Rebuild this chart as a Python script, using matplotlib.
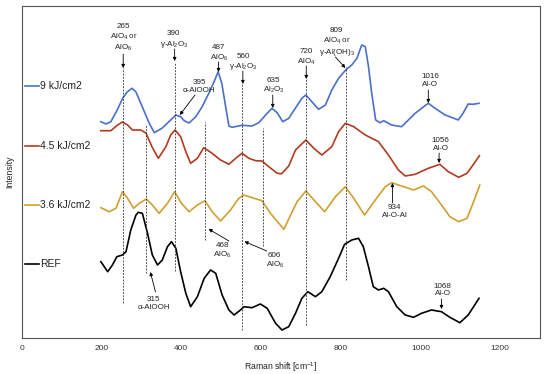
import matplotlib
matplotlib.use("Agg")
import matplotlib.pyplot as plt

plt.rcParams['font.family'] = ['Liberation Sans', 'DejaVu Sans']
plt.rcParams['mathtext.fontset'] = 'custom'
plt.rcParams['mathtext.rm'] = 'Liberation Sans'
plt.rcParams['mathtext.it'] = 'Liberation Sans:italic'

# ---------------- data ----------------
series_names = ["9 kJ/cm2", "4.5 kJ/cm2", "3.6 kJ/cm2", "REF"]

x_9 = [199, 212, 224, 240, 254, 265, 277, 287, 303, 320, 333, 353, 374, 387, 399, 408, 420, 437, 453, 470,
       483, 493, 502, 512, 520, 528, 553, 578, 595, 612, 628, 641, 655, 670, 687, 703, 713, 724, 745, 762,
       778, 795, 813, 828, 841, 853, 862, 870, 878, 888, 899, 908, 928, 953, 970, 987, 1003, 1020, 1037,
       1062, 1078, 1095, 1107, 1120, 1132, 1147]
y_9 = [216.3, 214, 216.3, 228, 240, 246, 249.7, 246, 231, 215, 205.3, 210, 218, 223, 221.3, 217.3, 215,
       221.3, 231.3, 245, 256.3, 266.3, 255, 231, 212, 210.7, 212.7, 212, 215.3, 223, 229.7, 225.3, 216.3,
       219.7, 230, 239.7, 243, 238, 228.7, 233, 248, 259.7, 268, 273, 279.7, 293, 291.3, 271.3, 245, 218,
       215.3, 217.3, 213, 211.3, 218, 224.7, 229.7, 234.7, 229.7, 223, 220.7, 218, 224.7, 234, 233.7, 234.7]

x_45 = [199, 224, 241, 253, 266, 278, 299, 312, 327, 343, 362, 374, 385, 399, 412, 424, 441, 457, 478,
        499, 520, 537, 553, 570, 587, 603, 620, 641, 652, 670, 687, 713, 733, 753, 778, 795, 812, 833, 862,
        895, 920, 945, 962, 987, 1020, 1049, 1070, 1096, 1117, 1132, 1148]
y_45 = [207.3, 207.3, 213, 216, 213, 208, 208, 205, 191.3, 179.7, 191.3, 203, 208, 201.3, 186.3, 174.7,
        179.7, 190.3, 184.7, 178, 173.7, 179.7, 184.7, 179.7, 177.3, 177, 171.3, 164.7, 164.2, 172, 188,
        198, 189.7, 183, 191.3, 206.3, 214.7, 211.3, 203, 196.3, 183, 168, 162, 163.7, 169.7, 173.7,
        166.3, 160.7, 164.7, 173, 182.3]

x_36 = [199, 220, 237, 253, 266, 281, 295, 313, 328, 345, 366, 384, 401, 420, 441, 460, 478, 499, 524,
        545, 557, 578, 603, 624, 658, 670, 691, 713, 737, 760, 787, 812, 833, 860, 887, 912, 928, 953, 983,
        1008, 1028, 1053, 1074, 1096, 1117, 1132, 1149]
y_36 = [130.3, 126.3, 129.7, 146.3, 139.7, 129.7, 134.7, 139, 133, 124.7, 134.7, 146.3, 134.7, 126.3,
        133, 137.3, 126.3, 117, 128, 139.7, 143, 140.3, 137.3, 124.7, 108.7, 119, 136.3, 147, 136.3, 126.3,
        141.3, 151.3, 139.7, 123, 138, 151.3, 155.3, 152, 148, 152, 146.3, 133, 121.3, 116.3, 119.7,
        134.7, 153]

x_ref = [199, 216, 228, 239, 253, 262, 274, 287, 293, 303, 316, 328, 341, 353, 366, 376, 387, 399, 412,
         424, 441, 458, 474, 487, 503, 520, 533, 549, 558, 578, 599, 616, 637, 653, 670, 687, 703, 718, 737,
         753, 774, 795, 810, 828, 845, 857, 870, 882, 895, 908, 920, 941, 962, 983, 1003, 1028, 1053, 1074,
         1099, 1120, 1147]
y_ref = [76.3, 66.3, 73, 81.3, 83, 86.3, 108, 123, 125.7, 124.7, 104.7, 83, 73, 78, 91.3, 96.3, 89.7,
         66.3, 44.7, 31.3, 41.3, 59.7, 68, 64.7, 43, 28, 23, 28, 31.3, 30.3, 34, 29.7, 14.7, 8, 11.3, 24.7,
         39.7, 46.3, 41.3, 46.3, 61.3, 79.7, 93.7, 98, 99.7, 91.3, 71.3, 51.3, 48, 49.7, 46.3, 31.3, 23,
         20.7, 24.7, 28, 26.3, 20.7, 15.3, 23, 39.7]

label_y = [252, 192, 133, 74]

# reference band positions (dashed guides) and their extents
band_x = [254, 313, 384, 460, 554, 606, 714, 813]
band_top = [270, 213, 276, 216, 255, 210, 260, 271]
band_bottom = [35, 65, 67, 98, 8, 92, 13, 58]

x_ticks = [0, 200, 400, 600, 800, 1000, 1200]

colors = ["#4a6fc9", "#b23a1e", "#cfa030", "#000000"]

# annotations: text, text position, arrow tail, arrow tip
annotations = [
    ("265\nAlO$_4$ or\nAlO$_6$", (256, 300), (255, 284), (255, 270)),
    ("390\nγ-Al$_2$O$_3$", (382, 298), (384, 289), (384, 277)),
    ("395\nα-AlOOH", (445, 251.5), (435, 243), (397, 223)),
    ("487\nAlO$_6$", (495, 284.5), (494, 276), (494, 266)),
    ("560\nγ-Al$_2$O$_3$", (555, 275.5), (555, 267), (555, 254)),
    ("635\nAl$_2$O$_3$", (632, 252), (630, 243), (630, 230)),
    ("720\nAlO$_4$", (714, 280.5), (714, 272), (714, 259)),
    ("809\nAlO$_4$ or\nγ-Al(OH)$_3$", (790, 295.5), (787, 281), (812, 270)),
    ("1016\nAl-O", (1024, 257.5), (1020, 248), (1020, 235)),
    ("1056\nAl-O", (1051, 193.5), (1047, 185), (1047, 175)),
    ("934\nAl-O-Al", (935, 126.5), (930, 135), (930, 155)),
    ("468\nAlO$_6$", (503, 87), (520, 97), (469, 109)),
    ("606\nAlO$_6$", (635, 77), (615, 87), (559, 96.5)),
    ("315\nα-AlOOH", (331, 34.5), (336, 46), (323, 66)),
    ("1068\nAl-O", (1056, 48), (1053, 39), (1053, 29)),
]

# ---------------- figure ----------------
fig = plt.figure(figsize=(5.5, 3.74), dpi=100)
ax = fig.add_axes([21.5 / 550, 36 / 374, (540 - 21.5) / 550, (338 - 6) / 374])

xs = [x_9, x_45, x_36, x_ref]
ys = [y_9, y_45, y_36, y_ref]
for x, y, c in zip(xs, ys, colors):
    ax.plot(x, y, color=c, lw=1.2, solid_joinstyle='round')

for bx, bt, bb in zip(band_x, band_top, band_bottom):
    ax.plot([bx, bx], [bb, bt], color="#333333", lw=0.6, ls=(0, (2.2, 1.6)))

for name, ly, c in zip(series_names, label_y, colors):
    ax.plot([10, 45], [ly, ly], color=c, lw=1.2)
    ax.text(47, ly, name, fontsize=7.5, va='center', ha='left', color='#222222')

for txt, tpos, tail, tip in annotations:
    ax.text(tpos[0], tpos[1], txt, fontsize=5.8, ha='center', va='center',
            linespacing=1.15, color='#222222')
    ax.annotate('', xy=tip, xytext=tail,
                arrowprops=dict(arrowstyle='-|>', color='black', lw=0.6,
                                mutation_scale=5, shrinkA=0, shrinkB=0))

ax.set_xlim(0, 1300)
ax.set_ylim(0, 332)
ax.set_xticks(x_ticks)
ax.set_xticklabels([str(t) for t in x_ticks])
ax.set_yticks([])
ax.tick_params(axis='x', length=0, pad=5, labelsize=6, colors='#333333')
for s in ax.spines.values():
    s.set_color('#555555')
    s.set_linewidth(0.8)

ax.set_xlabel("Raman shift [cm$^{-1}$]", fontsize=6.2, labelpad=6, color='#222222')
ax.set_ylabel("Intensity", fontsize=6.2, labelpad=5, color='#222222')

fig.savefig("out.png", dpi=100)
